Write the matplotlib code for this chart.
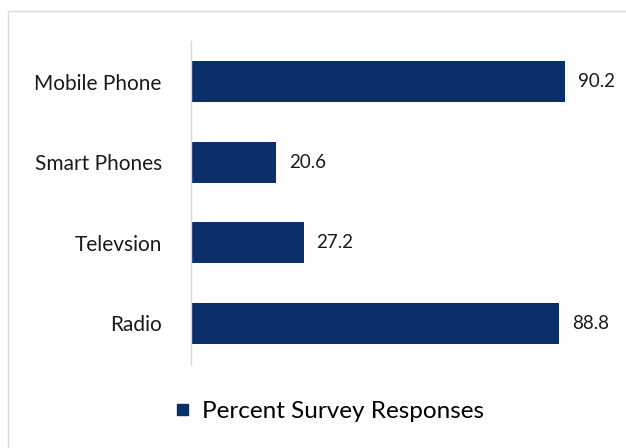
import matplotlib.pyplot as plt
from matplotlib.patches import Rectangle

categories = ['Mobile Phone', 'Smart Phones', 'Televsion', 'Radio']
values = [90.2, 20.6, 27.2, 88.8]
series_name = 'Percent Survey Responses'
bar_color = '#0a2f6b'

plt.rcParams['font.family'] = ['Lato', 'DejaVu Sans']

fig = plt.figure(figsize=(6.26, 4.48), dpi=100)
# light frame around chart area
fig.patches.append(Rectangle((8 / 626, -0.05), 1.0, 1 - 11 / 448 + 0.05,
                             transform=fig.transFigure, fill=False,
                             edgecolor='#d9d9d9', linewidth=1.0))

ax = fig.add_axes([0.305, 0.188, 0.663, 0.72])
y = range(len(categories))
bars = ax.barh(y, values, height=0.51, color=bar_color)
ax.set_yticks(list(y))
ax.set_yticklabels(categories, fontsize=15, color='#1a1a1a')
ax.invert_yaxis()
ax.set_ylim(3.5, -0.5)
ax.set_xlim(0, 100)
ax.set_xticks([])
ax.tick_params(axis='y', length=0, pad=21)
for s in ['top', 'right', 'bottom']:
    ax.spines[s].set_visible(False)
ax.spines['left'].set_color('#d9d9d9')
ax.spines['left'].set_linewidth(1.0)

for b, v in zip(bars, values):
    ax.text(b.get_width() + 3, b.get_y() + b.get_height() / 2, f'{v:.1f}',
            va='center', ha='left', fontsize=13.5, color='#1a1a1a')

fig.legend([Rectangle((0, 0), 1, 1, color=bar_color)], [series_name],
           loc='center', bbox_to_anchor=(0.528, 1 - 412 / 448), frameon=False,
           fontsize=17.5, handlelength=0.45, handleheight=0.3, handletextpad=0.6)

fig.savefig('out.png', dpi=100)
